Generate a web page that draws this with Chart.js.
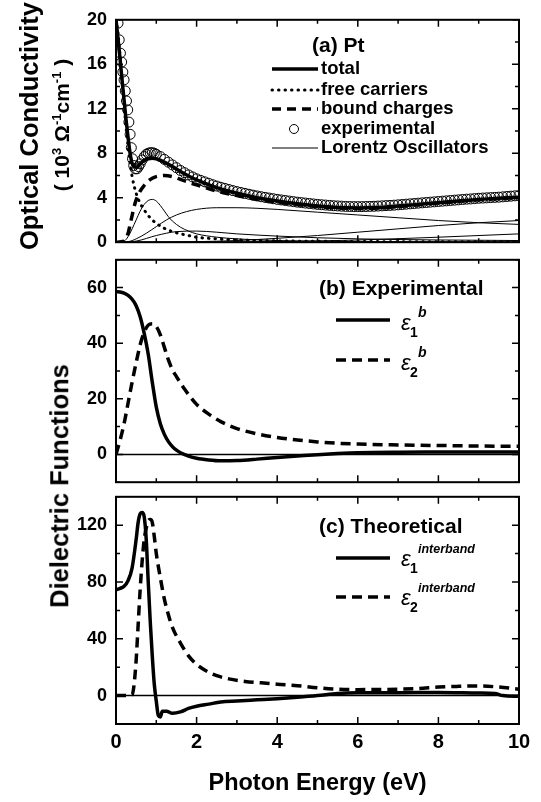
<!DOCTYPE html>
<html lang="en">
<head>
<meta charset="UTF-8">
<title>Pt optical conductivity and dielectric functions</title>
<style>
  body { margin: 0; background: #fff; }
  #wrap { position: relative; width: 541px; height: 802px; overflow: hidden;
          font-family: "Liberation Sans", Arial, sans-serif; color: #000; }
  .panel { position: absolute; left: 0; width: 541px; }
  .ytitle { position: absolute; font-weight: bold; font-size: 25.5px; line-height: 1;
            white-space: nowrap; transform: translate(-50%, -50%) rotate(-90deg); }
  .ytitle.unit { font-size: 21px; }
  .ytitle sup { font-size: 13px; }
</style>
</head>
<body>
<div id="wrap">
  <div class="panel" style="top:0px;height:262px"><canvas id="cA" width="541" height="262"></canvas></div>
  <div class="panel" style="top:240px;height:262px"><canvas id="cB" width="541" height="262"></canvas></div>
  <div class="panel" style="top:477px;height:325px"><canvas id="cC" width="541" height="325"></canvas></div>
  <div class="ytitle" style="left:30px;top:126px">Optical Conductivity</div>
  <div class="ytitle unit" style="left:61px;top:125px">( 10<sup>3</sup> &Omega;<sup>-1</sup>cm<sup>-1</sup> )</div>
  <div class="ytitle" style="left:60px;top:486px">Dielectric Functions</div>
</div>

<script src="https://cdn.jsdelivr.net/npm/chart.js"></script>
<script>
// ---- tick labels ----
const xTickLabels = [0, 2, 4, 6, 8, 10];
const aTickLabels = [0, 4, 8, 12, 16, 20];
const bTickLabels = [0, 20, 40, 60];
const cTickLabels = [0, 40, 80, 120];

// ---- (a) optical conductivity, 10^3 1/(Ohm cm) ----
const expE = [0.05, 0.08, 0.11, 0.14, 0.17, 0.2, 0.23, 0.26, 0.29, 0.32, 0.35, 0.38, 0.41, 0.44, 0.48,
  0.52, 0.56, 0.6, 0.65, 0.7, 0.75, 0.8, 0.85, 0.9, 0.95, 1.0, 1.1, 1.2, 1.3, 1.4, 1.5, 1.6, 1.7, 1.8, 1.9,
  2.0, 2.1, 2.2, 2.3, 2.4, 2.5, 2.6, 2.7, 2.8, 2.9, 3.0, 3.1, 3.2, 3.3, 3.4, 3.5, 3.6, 3.7, 3.8, 3.9,
  4.0, 4.1, 4.2, 4.3, 4.4, 4.5, 4.6, 4.7, 4.8, 4.9, 5.0, 5.1, 5.2, 5.3, 5.4, 5.5, 5.6, 5.7, 5.8, 5.9,
  6.0, 6.1, 6.2, 6.3, 6.4, 6.5, 6.6, 6.7, 6.8, 6.9, 7.0, 7.1, 7.2, 7.3, 7.4, 7.5, 7.6, 7.7, 7.8, 7.9,
  8.0, 8.1, 8.2, 8.3, 8.4, 8.5, 8.6, 8.7, 8.8, 8.9, 9.0, 9.1, 9.2, 9.3, 9.4, 9.5, 9.6, 9.7, 9.8, 9.9, 10.0];
const expSigma = [19.7, 18.2, 17.0, 16.2, 15.3, 14.6, 13.6, 12.7, 11.9, 10.8, 9.7, 8.5, 7.5, 6.9, 6.6,
  6.6, 6.8, 7.05, 7.4, 7.7, 7.9, 8.0, 8.05, 8.05, 8.0, 7.9, 7.7, 7.45, 7.2, 6.95, 6.7, 6.45, 6.25, 6.05, 5.87,
  5.70, 5.56, 5.43, 5.30, 5.17, 5.05, 4.94, 4.84, 4.74, 4.64, 4.55, 4.47, 4.39, 4.31, 4.23, 4.16, 4.09, 4.03, 3.97, 3.91,
  3.85, 3.80, 3.75, 3.70, 3.65, 3.60, 3.56, 3.52, 3.48, 3.44, 3.40, 3.37, 3.34, 3.31, 3.28, 3.26, 3.24, 3.22, 3.21, 3.20,
  3.20, 3.20, 3.21, 3.22, 3.23, 3.25, 3.27, 3.29, 3.31, 3.33, 3.36, 3.39, 3.42, 3.45, 3.48, 3.51, 3.54, 3.57, 3.60, 3.63,
  3.66, 3.69, 3.72, 3.75, 3.78, 3.81, 3.84, 3.87, 3.89, 3.92, 3.95, 3.97, 3.99, 4.01, 4.03, 4.05, 4.08, 4.11, 4.14, 4.17, 4.20];

const totalE = [0, 0.05, 0.1, 0.15, 0.2, 0.25, 0.3, 0.35, 0.4, 0.45, 0.5, 0.55, 0.6, 0.7, 0.8, 0.9, 1.0, 1.2, 1.4,
  1.6, 1.8, 2.0, 2.5, 3.0, 3.5, 4.0, 4.5, 5.0, 5.5, 6.0, 6.5, 7.0, 7.5, 8.0, 8.5, 9.0, 9.5, 10];
const totalSigma = [20, 18.3, 16.5, 14.6, 12.8, 11.0, 9.4, 8.0, 7.1, 6.8, 6.75, 6.85, 7.05, 7.35, 7.5, 7.55, 7.5, 7.2, 6.8,
  6.35, 5.95, 5.6, 4.9, 4.4, 4.0, 3.7, 3.45, 3.25, 3.12, 3.08, 3.12, 3.25, 3.4, 3.55, 3.7, 3.85, 3.95, 4.05];

const freeE = [0, 0.05, 0.1, 0.15, 0.2, 0.25, 0.3, 0.35, 0.4, 0.5, 0.6, 0.7, 0.8, 0.9, 1.0, 1.2, 1.4, 1.6, 1.8,
  2.0, 2.5, 3, 4, 5, 6, 8, 10];
const freeSigma = [20, 18.8, 16.8, 14.5, 12.3, 10.3, 8.6, 7.1, 5.9, 4.4, 3.5, 2.9, 2.4, 2.0, 1.7, 1.25, 0.95, 0.75, 0.6,
  0.45, 0.3, 0.2, 0.12, 0.08, 0.06, 0.04, 0.03];

const boundE = [0, 0.2, 0.3, 0.35, 0.4, 0.45, 0.5, 0.6, 0.7, 0.8, 0.9, 1.0, 1.2, 1.4, 1.6, 1.8, 2.0, 2.5, 3, 3.5,
  4, 4.5, 5, 5.5, 6, 6.5, 7, 7.5, 8, 8.5, 9, 9.5, 10];
const boundSigma = [0, 0.1, 0.8, 1.6, 2.4, 3.2, 3.8, 4.6, 5.1, 5.5, 5.75, 5.9, 6.0, 5.9, 5.65, 5.4, 5.15, 4.6, 4.2, 3.85,
  3.6, 3.38, 3.2, 3.08, 3.03, 3.07, 3.2, 3.36, 3.52, 3.67, 3.82, 3.92, 4.02];

const lor1E = [0, 0.2, 0.3, 0.4, 0.5, 0.6, 0.7, 0.8, 0.9, 1.0, 1.1, 1.2, 1.3, 1.4, 1.6, 1.8, 2.0, 2.5, 3, 4, 5, 6, 8, 10];
const lor1Sigma = [0, 0.1, 0.5, 1.2, 2.0, 2.8, 3.4, 3.75, 3.85, 3.7, 3.3, 2.8, 2.3, 1.9, 1.35, 1.0, 0.75, 0.45, 0.3, 0.15, 0.1, 0.06, 0.03, 0.02];
const lor2E = [0, 0.3, 0.5, 0.75, 1.0, 1.25, 1.5, 1.75, 2.0, 2.5, 3.0, 3.5, 4, 5, 6, 7, 8, 9, 10];
const lor2Sigma = [0, 0.05, 0.3, 0.8, 1.4, 2.0, 2.45, 2.75, 2.95, 3.1, 3.1, 3.05, 2.95, 2.7, 2.45, 2.2, 1.95, 1.75, 1.6];
const lor3E = [0, 2, 3, 4, 5, 6, 7, 8, 9, 10];
const lor3Sigma = [0, 0.05, 0.15, 0.35, 0.6, 0.9, 1.2, 1.5, 1.75, 1.95];
const lor4E = [0, 0.5, 1, 1.5, 2, 2.5, 3, 4, 5, 6, 8, 10];
const lor4Sigma = [0, 0.1, 0.6, 0.95, 1.0, 0.9, 0.75, 0.55, 0.4, 0.3, 0.2, 0.15];
const lor5E = [0, 4, 6, 8, 10];
const lor5Sigma = [0, 0.05, 0.2, 0.45, 0.75];

// ---- (b) experimental bound-charge dielectric function ----
const e1bE = [0, 0.1, 0.2, 0.3, 0.4, 0.5, 0.6, 0.7, 0.8, 0.9, 1.0, 1.1, 1.2, 1.3, 1.4, 1.5, 1.6, 1.8, 2.0, 2.3,
  2.6, 3.0, 3.5, 4, 4.5, 5, 5.5, 6, 7, 8, 9, 10];
const e1b = [58.5, 58.4, 58.0, 57.2, 55.8, 53.5, 49.5, 43.5, 36, 26, 17, 11, 7.2, 4.6, 2.8, 1.5, 0.6, -0.6, -1.4, -2.0,
  -2.3, -2.2, -1.7, -1.1, -0.6, -0.1, 0.3, 0.6, 0.8, 0.85, 0.9, 0.9];
const e2bE = [0, 0.1, 0.2, 0.3, 0.4, 0.5, 0.6, 0.7, 0.8, 0.9, 1.0, 1.1, 1.2, 1.3, 1.4, 1.5, 1.7, 2.0, 2.3, 2.6,
  3.0, 3.5, 4, 4.5, 5, 5.5, 6, 7, 8, 9, 10];
const e2b = [0, 5, 11, 18.5, 26, 33, 39.5, 44, 46.5, 47, 46, 43, 38.5, 34, 30.5, 28, 23.5, 18, 14.5, 11.8,
  9.3, 7.4, 6.1, 5.2, 4.5, 4.0, 3.7, 3.4, 3.2, 3.0, 2.9];

// ---- (c) theoretical interband dielectric function ----
const e1iE = [0, 0.1, 0.2, 0.3, 0.4, 0.5, 0.55, 0.6, 0.65, 0.7, 0.75, 0.8, 0.85, 0.9, 0.95, 1.0, 1.05, 1.1, 1.15,
  1.25, 1.4, 1.6, 1.8, 2.0, 2.3, 2.6, 3, 3.5, 4, 4.5, 5, 5.5, 6, 7, 8, 9, 9.4, 9.6, 10];
const e1i = [74.5, 75.5, 77, 81, 90, 110, 122, 128, 129, 126, 110, 80, 52, 28, 8, -4, -14, -15, -11,
  -11, -12.5, -11.5, -9, -7.5, -6, -4.5, -3.8, -3, -2.2, -1.2, 0, 1.5, 2, 2, 2.2, 1.8, 1.5, 0, -0.5];
const e2iE = [0, 0.3, 0.4, 0.45, 0.5, 0.55, 0.6, 0.65, 0.7, 0.75, 0.8, 0.85, 0.9, 0.95, 1.0, 1.1, 1.2, 1.3, 1.4,
  1.6, 1.8, 2.0, 2.2, 2.5, 2.8, 3.2, 3.6, 4, 4.5, 5, 5.5, 6, 6.5, 7, 7.5, 8, 8.5, 9, 9.5, 10];
const e2i = [0, 0, 0.5, 8, 25, 50, 75, 95, 110, 118, 123, 124, 122, 112, 100, 83, 68, 57, 48,
  37, 28, 22, 18, 14, 11.8, 10, 9, 8, 7, 5.5, 4.5, 4.2, 4.3, 4.5, 5, 6, 6.5, 6.8, 6, 4.5];

Chart.defaults.font.family = '"Liberation Sans", Arial, sans-serif';
Chart.defaults.color = '#000';

function pts(xs, ys) { return xs.map((x, i) => ({ x: x, y: ys[i] })); }

function lineSet(label, xs, ys, width, dash) {
  return {
    label: label, data: pts(xs, ys), borderColor: '#000', backgroundColor: '#000',
    borderWidth: width, borderDash: dash || [], borderCapStyle: dash && dash[0] < 2 ? 'round' : 'butt',
    pointRadius: 0, cubicInterpolationMode: 'monotone', fill: false
  };
}

function yAxis(min, max, labels) {
  return {
    type: 'linear', min: min, max: max,
    grid: { display: false, drawTicks: false }, border: { display: false },
    afterFit: s => { s.width = 116; },
    afterBuildTicks: s => { s.ticks = labels.map(v => ({ value: v })); },
    ticks: { font: { size: 18, weight: 'bold' }, padding: 9, color: '#000' }
  };
}

// frame box, inward ticks and zero line
const framePlugin = {
  id: 'frame',
  beforeDatasetsDraw(chart, args, o) {
    if (!o.zero) return;
    const { ctx, chartArea: a, scales: { y } } = chart;
    const py = y.getPixelForValue(0);
    ctx.save();
    ctx.strokeStyle = '#000';
    ctx.lineWidth = 1.5;
    ctx.beginPath(); ctx.moveTo(a.left, py); ctx.lineTo(a.right, py); ctx.stroke();
    ctx.restore();
  },
  afterDatasetsDraw(chart, args, o) {
    const { ctx, chartArea: a, scales: { x, y } } = chart;
    ctx.save();
    ctx.strokeStyle = '#000';
    ctx.lineWidth = 2;
    ctx.strokeRect(a.left, a.top, a.right - a.left, a.bottom - a.top);
    ctx.lineWidth = 1.5;
    ctx.beginPath();
    for (let i = 0; x.min + i * o.xMinor <= x.max + 1e-9; i++) {
      const px = x.getPixelForValue(x.min + i * o.xMinor);
      const len = i % 2 === 0 ? 7 : 4;
      ctx.moveTo(px, a.bottom); ctx.lineTo(px, a.bottom - len);
      ctx.moveTo(px, a.top); ctx.lineTo(px, a.top + len);
    }
    for (let i = 0; y.min + i * o.yMinor <= y.max + 1e-9; i++) {
      const v = y.min + i * o.yMinor;
      const py = y.getPixelForValue(v);
      const len = Math.abs(v % o.yMajor) < 1e-6 ? 7 : 4;
      ctx.moveTo(a.left, py); ctx.lineTo(a.left + len, py);
      ctx.moveTo(a.right, py); ctx.lineTo(a.right - len, py);
    }
    ctx.stroke();
    ctx.restore();
  },
  afterDraw(chart, args, o) {
    if (o.legend) o.legend(chart.ctx, chart);
  }
};

function sample(ctx, ds, x1, x2, y) {
  ctx.save();
  ctx.strokeStyle = '#000';
  ctx.lineWidth = ds.borderWidth;
  ctx.setLineDash(ds.borderDash || []);
  ctx.lineCap = ds.borderCapStyle || 'butt';
  ctx.beginPath(); ctx.moveTo(x1, y); ctx.lineTo(x2, y); ctx.stroke();
  ctx.restore();
}

function eps(ctx, x, base, sub, sup, supFont) {
  ctx.save();
  ctx.fillStyle = '#000';
  ctx.textBaseline = 'alphabetic';
  ctx.textAlign = 'left';
  ctx.font = 'italic 22px "Liberation Sans"';
  ctx.fillText('\u03b5', x, base);
  ctx.font = 'bold 14px "Liberation Sans"';
  ctx.fillText(sub, x + 9, base + 7);
  ctx.font = supFont;
  ctx.fillText(sup, x + 17, base - 13);
  ctx.restore();
}

function label(ctx, text, x, y, size) {
  ctx.save();
  ctx.fillStyle = '#000';
  ctx.textBaseline = 'middle';
  ctx.textAlign = 'left';
  ctx.font = 'bold ' + size + 'px "Liberation Sans"';
  ctx.fillText(text, x, y);
  ctx.restore();
}

const common = {
  responsive: false, animation: false, devicePixelRatio: 1,
  plugins: { legend: { display: false }, tooltip: { enabled: false } }
};

// ---------- panel (a) ----------
const aSets = [
  lineSet('Lorentz Oscillators', lor1E, lor1Sigma, 1),
  lineSet('L2', lor2E, lor2Sigma, 1),
  lineSet('L3', lor3E, lor3Sigma, 1),
  lineSet('L4', lor4E, lor4Sigma, 1),
  lineSet('L5', lor5E, lor5Sigma, 1),
  lineSet('free carriers', freeE, freeSigma, 3, [0.5, 6]),
  lineSet('bound charges', boundE, boundSigma, 3.5, [9, 6]),
  lineSet('total', totalE, totalSigma, 3.5),
  { label: 'experimental', data: pts(expE, expSigma), showLine: false, pointRadius: 5,
    pointBorderWidth: 1, pointBorderColor: '#000', pointBackgroundColor: 'rgba(0,0,0,0)' }
];

new Chart(document.getElementById('cA'), {
  type: 'line',
  data: { datasets: aSets },
  options: Object.assign({}, common, {
    layout: { padding: { top: 14, right: 22, bottom: 12, left: 0 } },
    scales: { x: { type: 'linear', min: 0, max: 10, display: false }, y: yAxis(0, 20, aTickLabels) },
    plugins: Object.assign({}, common.plugins, {
      frame: { xMinor: 1, yMinor: 2, yMajor: 4, zero: false, legend: (ctx) => {
        label(ctx, '(a) Pt', 312, 46, 21);
        const rows = [[aSets[7], 'total', 69], [aSets[5], 'free carriers', 90], [aSets[6], 'bound charges', 109],
                      [null, 'experimental', 129], [aSets[0], 'Lorentz Oscillators', 148]];
        rows.forEach(r => {
          if (r[0]) sample(ctx, r[0], 272, 318, r[2]);
          else { ctx.save(); ctx.lineWidth = 1; ctx.strokeStyle = '#000'; ctx.beginPath();
                 ctx.arc(294, r[2], 4.5, 0, Math.PI * 2); ctx.stroke(); ctx.restore(); }
          label(ctx, r[1], 321, r[2], 18.5);
        });
      } }
    })
  }),
  plugins: [framePlugin]
});

// ---------- panel (b) ----------
const bTop = 240;
const bSets = [
  lineSet('e1b', e1bE, e1b, 3.5),
  lineSet('e2b', e2bE, e2b, 3.5, [10, 6])
];
new Chart(document.getElementById('cB'), {
  type: 'line',
  data: { datasets: bSets },
  options: Object.assign({}, common, {
    layout: { padding: { top: 10, right: 22, bottom: 15, left: 0 } },
    scales: { x: { type: 'linear', min: 0, max: 10, display: false }, y: yAxis(-10, 70, bTickLabels) },
    plugins: Object.assign({}, common.plugins, {
      frame: { xMinor: 1, yMinor: 10, yMajor: 20, zero: true, legend: (ctx) => {
        label(ctx, '(b) Experimental', 319, 289 - bTop, 21);
        sample(ctx, bSets[0], 336, 390, 320 - bTop);
        sample(ctx, bSets[1], 336, 390, 360 - bTop);
        eps(ctx, 401, 330 - bTop, '1', 'b', 'italic bold 14px "Liberation Sans"');
        eps(ctx, 401, 370 - bTop, '2', 'b', 'italic bold 14px "Liberation Sans"');
      } }
    })
  }),
  plugins: [framePlugin]
});

// ---------- panel (c) ----------
const cTop = 477;
const cSets = [
  lineSet('e1i', e1iE, e1i, 3.5),
  lineSet('e2i', e2iE, e2i, 3.5, [10, 6])
];
new Chart(document.getElementById('cC'), {
  type: 'line',
  data: { datasets: cSets },
  options: Object.assign({}, common, {
    layout: { padding: { top: 10, right: 22, bottom: 0, left: 0 } },
    scales: {
      x: {
        type: 'linear', min: 0, max: 10,
        grid: { display: false, drawTicks: false }, border: { display: false },
        afterBuildTicks: s => { s.ticks = xTickLabels.map(v => ({ value: v })); },
        afterFit: s => { s.height = 78; },
        ticks: { font: { size: 20, weight: 'bold' }, padding: 6, maxRotation: 0, autoSkip: false, color: '#000' },
        title: { display: true, text: 'Photon Energy (eV)', font: { size: 23.5, weight: 'bold' },
                 padding: { top: 0, bottom: 4 }, color: '#000' }
      },
      y: yAxis(-20, 140, cTickLabels)
    },
    plugins: Object.assign({}, common.plugins, {
      frame: { xMinor: 1, yMinor: 20, yMajor: 40, zero: true, legend: (ctx) => {
        label(ctx, '(c) Theoretical', 319, 527 - cTop, 21);
        sample(ctx, cSets[0], 336, 390, 558 - cTop);
        sample(ctx, cSets[1], 336, 390, 597 - cTop);
        eps(ctx, 401, 566 - cTop, '1', 'interband', 'italic bold 12.5px "Liberation Sans"');
        eps(ctx, 401, 605 - cTop, '2', 'interband', 'italic bold 12.5px "Liberation Sans"');
      } }
    })
  }),
  plugins: [framePlugin]
});
</script>
</body>
</html>
